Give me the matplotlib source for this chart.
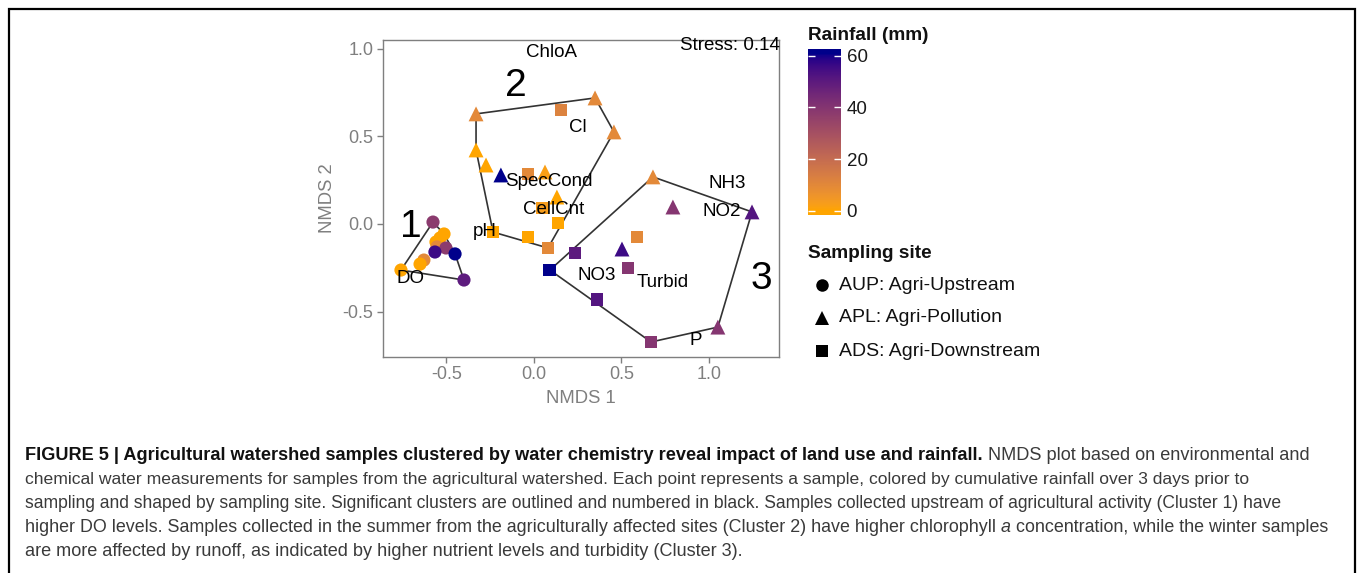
import numpy as np
import matplotlib
matplotlib.use("Agg")
import matplotlib.pyplot as plt
from matplotlib.colors import ListedColormap, Normalize
from matplotlib.lines import Line2D

plt.rcParams['font.family'] = ['Liberation Sans', 'DejaVu Sans']
plt.rcParams['axes.unicode_minus'] = False

# ---------------- data ----------------
site = (['AUP'] * 12 +
        ['APL', 'APL', 'APL', 'ADS', 'APL', 'APL', 'APL', 'ADS', 'APL', 'APL', 'ADS', 'ADS', 'ADS', 'ADS', 'ADS'] +
        ['APL', 'APL', 'APL', 'APL', 'ADS', 'ADS', 'ADS', 'ADS', 'APL', 'ADS', 'ADS'])
nmds1 = [-0.577, -0.514, -0.537, -0.560, -0.554, -0.503, -0.566, -0.451, -0.400, -0.629, -0.651, -0.760,
         -0.331, 0.349, 0.457, 0.154, -0.331, -0.274, -0.189, -0.034, 0.063, 0.131, 0.051, 0.137, -0.234, -0.034, 0.080,
         0.680, 0.794, 1.246, 1.051, 0.669, 0.360, 0.091, 0.234, 0.503, 0.589, 0.537]
nmds2 = [0.011, -0.057, -0.080, -0.103, -0.131, -0.137, -0.160, -0.171, -0.320, -0.206, -0.229, -0.263,
         0.629, 0.720, 0.526, 0.651, 0.423, 0.337, 0.280, 0.286, 0.297, 0.154, 0.091, 0.006, -0.046, -0.074, -0.137,
         0.269, 0.097, 0.069, -0.589, -0.674, -0.429, -0.263, -0.166, -0.143, -0.074, -0.251]
rainfall = [38, 0, 0, 0, 10, 38, 56, 61, 50, 10, 0, 0,
            10, 10, 10, 12, 0, 0, 61, 10, 2, 0, 3, 0, 0, 0, 10,
            10, 40, 52, 40, 40, 52, 61, 50, 56, 10, 40]
cluster = [1] * 12 + [2] * 15 + [3] * 11

env_labels = ['ChloA', 'Cl', 'SpecCond', 'CellCnt', 'pH', 'NO3', 'Turbid', 'NH3', 'NO2', 'DO', 'P']
env_x = [0.103, 0.251, 0.086, 0.114, -0.280, 0.360, 0.737, 1.103, 1.074, -0.703, 0.926]
env_y = [0.977, 0.549, 0.240, 0.080, -0.040, -0.297, -0.337, 0.229, 0.074, -0.309, -0.663]

cluster_ids = ['1', '2', '3']
cluster_lab_x = [-0.703, -0.103, 1.297]
cluster_lab_y = [-0.017, 0.789, -0.314]

site_codes = ['AUP', 'APL', 'ADS']
site_names = ['AUP: Agri-Upstream', 'APL: Agri-Pollution', 'ADS: Agri-Downstream']
site_markers = {'AUP': 'o', 'APL': '^', 'ADS': 's'}
site_sizes = {'AUP': 90, 'APL': 115, 'ADS': 85}

rain_ticks = [0, 20, 40, 60]
rain_max = 61
stress_text = 'Stress: 0.14'

caption_lines = [
    [("FIGURE 5 | Agricultural watershed samples clustered by water chemistry reveal impact of land use and rainfall.", 'bold', 'normal'),
     (" NMDS plot based on environmental and", 'normal', 'normal')],
    [("chemical water measurements for samples from the agricultural watershed. Each point represents a sample, colored by cumulative rainfall over 3 days prior to", 'normal', 'normal')],
    [("sampling and shaped by sampling site. Significant clusters are outlined and numbered in black. Samples collected upstream of agricultural activity (Cluster 1) have", 'normal', 'normal')],
    [("higher DO levels. Samples collected in the summer from the agriculturally affected sites (Cluster 2) have higher chlorophyll ", 'normal', 'normal'),
     ("a", 'normal', 'italic'),
     (" concentration, while the winter samples", 'normal', 'normal')],
    [("are more affected by runoff, as indicated by higher nutrient levels and turbidity (Cluster 3).", 'normal', 'normal')],
]
caption_right_px = [1334, 1229, 1290, 1327, 763]

# ---------------- colour ramp (CIELAB, like ggplot) ----------------
_M = np.array([[0.4124, 0.3576, 0.1805], [0.2126, 0.7152, 0.0722], [0.0193, 0.1192, 0.9505]])
_WP = np.array([0.95047, 1.0, 1.08883])

def _to_lab(hexc):
    rgb = np.array([int(hexc[i:i + 2], 16) / 255 for i in (1, 3, 5)])
    lin = np.where(rgb <= 0.04045, rgb / 12.92, ((rgb + 0.055) / 1.055) ** 2.4)
    xyz = _M @ lin / _WP
    d = 6 / 29
    f = np.where(xyz > d ** 3, np.cbrt(xyz), xyz / (3 * d * d) + 4 / 29)
    return np.array([116 * f[1] - 16, 500 * (f[0] - f[1]), 200 * (f[1] - f[2])])

def _from_lab(lab):
    L, a, b = lab
    fy_ = (L + 16) / 116
    f = np.array([fy_ + a / 500, fy_, fy_ - b / 200])
    d = 6 / 29
    xyz = np.where(f > d, f ** 3, 3 * d * d * (f - 4 / 29)) * _WP
    lin = np.clip(np.linalg.inv(_M) @ xyz, 0, 1)
    rgb = np.where(lin <= 0.0031308, 12.92 * lin, 1.055 * lin ** (1 / 2.4) - 0.055)
    return np.clip(rgb, 0, 1)

lo, hi = _to_lab('#FFA500'), _to_lab('#00008B')
cmap = ListedColormap([_from_lab(lo + (hi - lo) * t) for t in np.linspace(0, 1, 256)])
norm = Normalize(vmin=0, vmax=rain_max)

# ---------------- figure ----------------
W, H = 1358, 573
fig = plt.figure(figsize=(W / 100, H / 100), dpi=100)

def fx(px):
    return px / W

def fy(py):
    return 1 - py / H

ax = fig.add_axes([fx(383.3), fy(356.7), (779.3 - 383.3) / W, (356.7 - 40) / H])
ax.set_xlim(-0.861, 1.402)
ax.set_ylim(-0.758, 1.051)

grey = '#7f7f7f'
for s in ax.spines.values():
    s.set_color(grey)
    s.set_linewidth(1.0)
ax.set_xticks([-0.5, 0.0, 0.5, 1.0])
ax.set_yticks([-0.5, 0.0, 0.5, 1.0])
ax.set_xticklabels(['%.1f' % v for v in [-0.5, 0.0, 0.5, 1.0]])
ax.set_yticklabels(['%.1f' % v for v in [-0.5, 0.0, 0.5, 1.0]])
ax.tick_params(direction='out', length=4, width=1, color=grey, labelcolor=grey, labelsize=13, pad=3)
ax.set_xlabel('NMDS 1', color=grey, fontsize=13.3, labelpad=5)
ax.set_ylabel('NMDS 2', color=grey, fontsize=13.3, labelpad=5)

x = np.array(nmds1)
y = np.array(nmds2)
r = np.array(rainfall)
cl = np.array(cluster)
st = np.array(site)

# convex hulls
def hull(pts):
    pts = sorted(map(tuple, pts))
    def cross(o, a, b):
        return (a[0] - o[0]) * (b[1] - o[1]) - (a[1] - o[1]) * (b[0] - o[0])
    lower, upper = [], []
    for p in pts:
        while len(lower) >= 2 and cross(lower[-2], lower[-1], p) <= 0:
            lower.pop()
        lower.append(p)
    for p in reversed(pts):
        while len(upper) >= 2 and cross(upper[-2], upper[-1], p) <= 0:
            upper.pop()
        upper.append(p)
    return lower[:-1] + upper[:-1]

for c in [1, 2, 3]:
    m = cl == c
    h = hull(np.column_stack([x[m], y[m]]))
    h = h + [h[0]]
    hx, hy = zip(*h)
    ax.plot(hx, hy, color='#333333', lw=1.2, zorder=2)

for code in site_codes:
    m = st == code
    ax.scatter(x[m], y[m], c=r[m], cmap=cmap, norm=norm, marker=site_markers[code],
               s=site_sizes[code], linewidths=0, zorder=3)

for lab, tx, ty in zip(env_labels, env_x, env_y):
    ax.text(tx, ty, lab, fontsize=13.5, ha='center', va='center', color='black', zorder=4)
for lab, tx, ty in zip(cluster_ids, cluster_lab_x, cluster_lab_y):
    ax.text(tx, ty, lab, fontsize=28, ha='center', va='center', color='black', zorder=4)
fig.text(fx(780), fy(46), stress_text, fontsize=13.5, ha='right', va='center', color='black')

# ---------------- colourbar ----------------
cax = fig.add_axes([fx(808), fy(215), 33 / W, 166 / H])
pad = 0.025 * rain_max / 0.95
vals = np.linspace(-pad, rain_max + pad, 300)
cax.imshow(np.clip(vals, 0, rain_max)[:, None], aspect='auto', origin='lower', cmap=cmap, norm=norm,
           extent=[0, 1, -pad, rain_max + pad])
cax.set_xlim(0, 1)
cax.set_ylim(-pad, rain_max + pad)
cax.set_xticks([])
cax.set_yticks(rain_ticks)
cax.set_yticklabels([str(t) for t in rain_ticks])
cax.yaxis.tick_right()
cax.tick_params(axis='y', direction='in', length=5, width=1, color='white', left=True, right=True,
                labelsize=13.5, labelcolor='#1a1a1a', pad=4)
for s in cax.spines.values():
    s.set_visible(False)
fig.text(fx(808), fy(35), 'Rainfall (mm)', fontsize=13.7, fontweight='bold', ha='left', va='center', color='#111111')

# ---------------- shape legend ----------------
fig.text(fx(808), fy(254), 'Sampling site', fontsize=13.7, fontweight='bold', ha='left', va='center', color='#111111')
leg_y = [285, 318, 351]
leg_ms = {'AUP': 9, 'APL': 10.5, 'ADS': 9}
for code, name, py in zip(site_codes, site_names, leg_y):
    fig.add_artist(Line2D([fx(822)], [fy(py)], transform=fig.transFigure, marker=site_markers[code],
                          markersize=leg_ms[code], color='black', linestyle='none', markeredgewidth=0))
    fig.text(fx(839), fy(py), name, fontsize=14, ha='left', va='center', color='#111111')

# ---------------- frame ----------------
fig.add_artist(Line2D([fx(9), fx(9), fx(1355), fx(1355)], [0, fy(9), fy(9), 0],
                      transform=fig.transFigure, color='black', lw=1.6, solid_joinstyle='miter'))

# ---------------- caption ----------------
renderer = fig.canvas.get_renderer()
base = 11.5

def seg_width(segs, size):
    total = 0
    for txt, weight, style in segs:
        t = fig.text(0, 0, txt, fontsize=size, fontweight=weight, fontstyle=style)
        total += t.get_window_extent(renderer).width
        t.remove()
    return total

fits = [base * (right - 25) / seg_width(segs, base) for segs, right in zip(caption_lines, caption_right_px)]
ref_size = fits[3]
sizes = [min(max(s, ref_size * 0.98), ref_size * 1.02) for s in fits]

cap_y = [455, 479.5, 503.5, 528, 552]
for segs, py, size in zip(caption_lines, cap_y, sizes):
    xpos = 25
    for txt, weight, style in segs:
        t = fig.text(fx(xpos), fy(py), txt, fontsize=size, fontweight=weight, fontstyle=style,
                     ha='left', va='center', color='#111111' if weight == 'bold' else '#3a3a3a')
        xpos += t.get_window_extent(renderer).width

fig.savefig('out.png', dpi=100)
